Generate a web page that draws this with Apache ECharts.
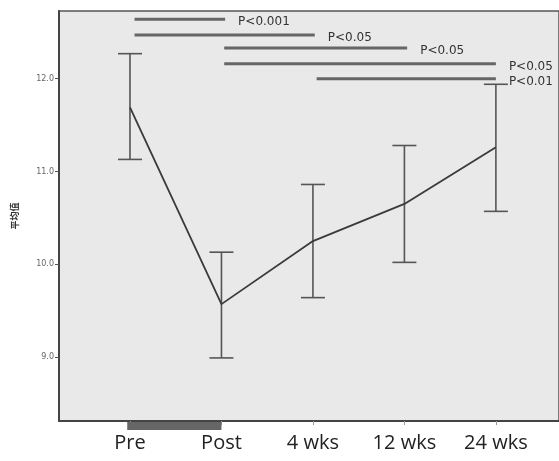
<!DOCTYPE html>
<html><head><meta charset="utf-8">
<script src="https://cdn.jsdelivr.net/npm/echarts@6/dist/echarts.min.js"></script>
<style>html,body{margin:0;padding:0;background:#fff}#c{width:559px;height:461px}</style>
</head><body><div id="c"></div>
<script>
var categories = ['Pre', 'Post', '4 wks', '12 wks', '24 wks'];
var means = [11.69, 9.57, 10.25, 10.65, 11.26];
var upper = [12.27, 10.13, 10.86, 11.28, 11.94];
var lower = [11.13, 8.99, 9.64, 10.02, 10.57];
var yTicks = [9, 10, 11, 12];
// significance brackets: [from category index, to category index, y level, label]
var sigFrom = [0.05, 0.05, 1.03, 1.03, 2.04];
var sigTo = [1.04, 2.02, 3.03, 4.0, 4.0];
var sigLevel = [12.64, 12.47, 12.33, 12.16, 12.0];
var sigLabel = ['P<0.001', 'P<0.05', 'P<0.05', 'P<0.05', 'P<0.01'];

var chart = echarts.init(document.getElementById('c'));
var idx = categories.map(function (_, i) { return i; });
var errData = idx.map(function (i) { return [i, lower[i], upper[i]]; });
var sigData = sigLabel.map(function (l, i) { return [sigFrom[i], sigTo[i], sigLevel[i], l]; });

chart.setOption({
  animation: false,
  grid: { left: 59, right: 0, top: 11, bottom: 40, show: true, backgroundColor: '#e9e9e9', borderColor: '#555', borderWidth: 1.5 },
  xAxis: {
    type: 'value', min: -0.776, max: 4.69,
    splitLine: { show: false },
    axisLine: { show: true, onZero: false, lineStyle: { color: '#444', width: 2 } },
    axisTick: { show: true, customValues: idx, length: 4, lineStyle: { color: '#999' } },
    axisLabel: { customValues: idx, formatter: function (v) { return categories[Math.round(v)]; },
      fontFamily: 'Open Sans', fontSize: 20, color: '#222', margin: 12 }
  },
  yAxis: {
    type: 'value', min: 8.31, max: 12.73,
    name: '平均值', nameLocation: 'middle', nameGap: 40, nameRotate: 90,
    nameTextStyle: { fontFamily: 'Noto Sans CJK SC', fontSize: 9, fontWeight: 'bold', color: '#333' },
    splitLine: { show: false },
    axisLine: { show: true, onZero: false, lineStyle: { color: '#444', width: 2 } },
    axisTick: { show: true, customValues: yTicks, length: 4, lineStyle: { color: '#555' } },
    axisLabel: { customValues: yTicks, formatter: function (v) { return v.toFixed(1); },
      fontFamily: 'DejaVu Sans', fontSize: 8, color: '#666', margin: 5 }
  },
  series: [
    {
      type: 'custom', data: errData, z: 3,
      renderItem: function (params, api) {
        var x = api.value(0);
        var lo = api.coord([x, api.value(1)]);
        var hi = api.coord([x, api.value(2)]);
        var w = 12;
        var st = { stroke: '#555', lineWidth: 1.6 };
        return { type: 'group', children: [
          { type: 'line', shape: { x1: hi[0], y1: hi[1], x2: lo[0], y2: lo[1] }, style: st },
          { type: 'line', shape: { x1: hi[0] - w, y1: hi[1], x2: hi[0] + w, y2: hi[1] }, style: st },
          { type: 'line', shape: { x1: lo[0] - w, y1: lo[1], x2: lo[0] + w, y2: lo[1] }, style: st }
        ]};
      }
    },
    {
      type: 'line', data: idx.map(function (i) { return [i, means[i]]; }),
      showSymbol: false, symbol: 'none', z: 4,
      lineStyle: { color: '#3a3a3a', width: 1.8 }
    },
    {
      type: 'custom', data: sigData, z: 5,
      renderItem: function (params, api) {
        var a = api.coord([api.value(0), api.value(2)]);
        var b = api.coord([api.value(1), api.value(2)]);
        return { type: 'group', children: [
          { type: 'line', shape: { x1: a[0], y1: a[1], x2: b[0], y2: b[1] }, style: { stroke: '#666', lineWidth: 3 } },
          { type: 'text', x: b[0] + 13, y: a[1] + 3, style: { text: sigData[params.dataIndex][3], fill: '#333',
            font: '12px "DejaVu Sans"', verticalAlign: 'middle' } }
        ]};
      }
    }
  ]
});

// dark strip under the axis between Pre and Post (as in the reference scan)
var p0 = chart.convertToPixel({ gridIndex: 0 }, [-0.03, 8.31]);
var p1 = chart.convertToPixel({ gridIndex: 0 }, [1.0, 8.31]);
chart.setOption({ graphic: [{ type: 'rect', shape: { x: p0[0], y: p0[1] + 1, width: p1[0] - p0[0], height: 8 },
  style: { fill: '#666' }, z: 1 }] });
</script></body></html>
